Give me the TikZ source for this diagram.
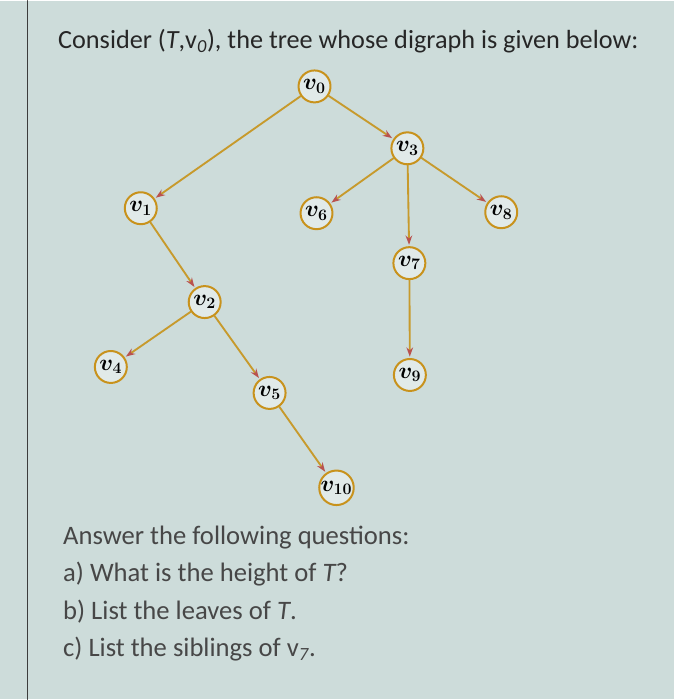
\documentclass[tikz,border=0pt]{standalone}
\usepackage{fontspec}
\setmainfont{Carlito}
\usetikzlibrary{arrows.meta}
\definecolor{screen}{HTML}{CDDCDA}
\definecolor{ring}{HTML}{C8921C}
\definecolor{arccol}{HTML}{C79A2C}
\definecolor{tip}{HTML}{B9524E}
\definecolor{ink}{HTML}{262626}
\begin{document}
\begin{tikzpicture}[x=.75pt,y=-.75pt,>={Stealth[length=7pt,width=5pt,color=tip]},line join=round,line cap=round,
	vert/.style={circle,draw=ring,line width=1.5pt,fill=screen!60!white,minimum size=24pt,inner sep=0pt,font=\fontsize{17}{19}\selectfont\boldmath},
	arc/.style={->,draw=arccol,line width=1.4pt,shorten >=1pt},
	txt/.style={anchor=base west,inner sep=0pt,font=\fontsize{20}{24}\selectfont}]
		\def\w{675}
		\def\h{700}
		\fill [screen] (0,0) rectangle (\w,\h);
		\draw [ink!90,line width=.8pt] (28,0) -- (28,\h);
		% title and questions
		\node [txt,text=ink,font=\fontsize{19.7}{24}\selectfont] (title) at (58,48) {Consider ({\itshape T},v\textsubscript{\itshape 0}), the tree whose digraph is given below:};
		\node [txt,text=ink!85] (ask) at (63,545) {Answer the following questions:};
		\node [txt,text=ink!85] (qa) at (63,582) {a) What is the height of {\itshape T}?};
		\node [txt,text=ink!85] (qb) at (63,620) {b) List the leaves of {\itshape T}.};
		\node [txt,text=ink!85] (qc) at (63,657) {c) List the siblings of v\textsubscript{\itshape 7}.};
		% vertices
		\node [vert] (v0) at (315,86) {$v_0$};
		\node [vert] (v1) at (141,208) {$v_1$};
		\node [vert] (v2) at (205,302) {$v_2$};
		\node [vert] (v3) at (408,148) {$v_3$};
		\node [vert] (v4) at (111,367) {$v_4$};
		\node [vert] (v5) at (270,393) {$v_5$};
		\node [vert] (v6) at (317,213) {$v_6$};
		\node [vert] (v7) at (410,263) {$v_7$};
		\node [vert] (v8) at (502,212) {$v_8$};
		\node [vert] (v9) at (410.5,375) {$v_9$};
		\node [vert] (v10) at (337,488) {$v_{10}$};
		% arcs
		\draw [arc] (v0) -- (v1);
		\draw [arc] (v0) -- (v3);
		\draw [arc] (v3) -- (v6);
		\draw [arc] (v3) -- (v7);
		\draw [arc] (v3) -- (v8);
		\draw [arc] (v1) -- (v2);
		\draw [arc] (v2) -- (v4);
		\draw [arc] (v2) -- (v5);
		\draw [arc] (v5) -- (v10);
		\draw [arc] (v7) -- (v9);
	\end{tikzpicture}
\end{document}
